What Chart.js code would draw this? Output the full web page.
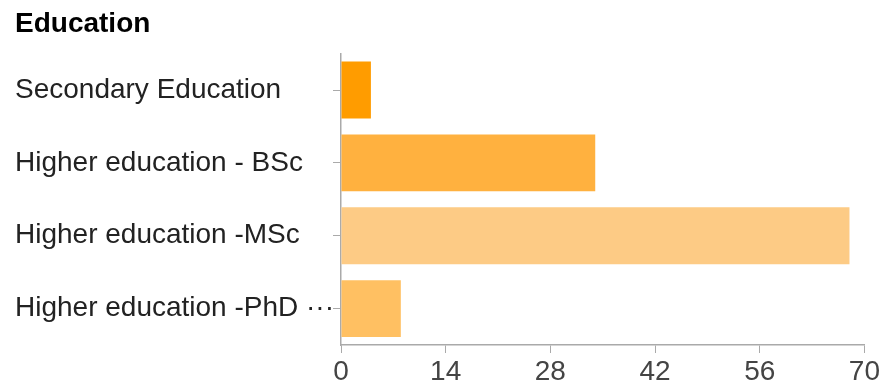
<!DOCTYPE html>
<html>
<head>
<meta charset="utf-8">
<script src="https://cdn.jsdelivr.net/npm/chart.js@4/dist/chart.umd.min.js"></script>
<style>
  html, body { margin: 0; padding: 0; background: #fff; }
  #wrap { width: 882px; height: 382px; }
</style>
</head>
<body>
<div id="wrap"><canvas id="eduChart"></canvas></div>
<script>
// Education breakdown
const categories = ['Secondary Education', 'Higher education - BSc', 'Higher education -MSc', 'Higher education -PhD \u00b7\u00b7\u00b7'];
const counts = [4, 34, 68, 8];
const barColors = ['#ff9c00', '#ffb13f', '#fdcb85', '#ffc062'];
const xTicks = [0, 14, 28, 42, 56, 70];

const ctx = document.getElementById('eduChart').getContext('2d');
new Chart(ctx, {
  type: 'bar',
  data: {
    labels: categories,
    datasets: [{
      label: 'Education',
      data: counts,
      backgroundColor: barColors,
      borderWidth: 0,
      categoryPercentage: 0.78,
      barPercentage: 1
    }]
  },
  options: {
    indexAxis: 'y',
    responsive: true,
    maintainAspectRatio: false,
    animation: false,
    layout: { padding: { left: 15, right: 4, top: 0, bottom: 0 } },
    plugins: {
      legend: { display: false },
      tooltip: { enabled: false },
      title: {
        display: true,
        text: 'Education',
        align: 'start',
        color: '#000',
        font: { family: 'Liberation Sans, Arial, sans-serif', size: 28, weight: 'bold' },
        padding: { top: 7, bottom: 13 }
      }
    },
    scales: {
      x: {
        min: 0,
        max: 70,
        afterBuildTicks: (scale) => { scale.ticks = xTicks.map(v => ({ value: v })); },
        afterFit: (scale) => { scale.height = 37; },
        grid: { drawOnChartArea: false, tickLength: 8, color: '#aaa' },
        border: { color: '#aaa', width: 1.5 },
        ticks: {
          color: '#444',
          padding: 2,
          font: { family: 'Liberation Sans, Arial, sans-serif', size: 28 }
        }
      },
      y: {
        afterFit: (scale) => { scale.width = 326; },
        grid: { drawOnChartArea: false, offset: false, tickLength: 8, color: '#aaa' },
        border: { color: '#aaa', width: 1.5 },
        ticks: {
          crossAlign: 'far',
          color: '#222',
          font: { family: 'Liberation Sans, Arial, sans-serif', size: 28 }
        }
      }
    }
  }
});
</script>
</body>
</html>
